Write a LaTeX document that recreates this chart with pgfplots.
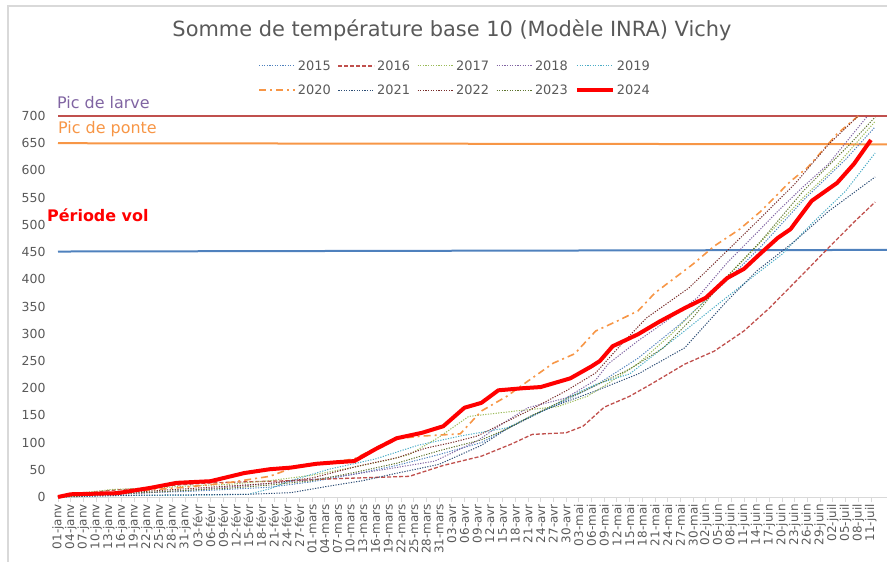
\documentclass[border=0pt]{standalone}
\usepackage{fontspec}
\setmainfont{DejaVu Sans}
\usepackage{pgfplots}
\pgfplotsset{compat=1.18}
\definecolor{cA}{HTML}{4F81BD}
\definecolor{cB}{HTML}{C0504D}
\definecolor{cC}{HTML}{9BBB59}
\definecolor{cD}{HTML}{8064A2}
\definecolor{cE}{HTML}{4BACC6}
\definecolor{cF}{HTML}{F79646}
\definecolor{cG}{HTML}{2C4D75}
\definecolor{cH}{HTML}{772C2A}
\definecolor{cI}{HTML}{5F7530}
\definecolor{txt}{HTML}{595959}
\definecolor{bord}{HTML}{D9D9D9}
\tikzset{dotl/.style={line width=1.0bp, dash pattern=on 1.2bp off 1.4bp}}
\begin{document}
\begin{tikzpicture}
\begin{axis}[
  name=ax,
  scale only axis, width=829bp, height=381bp,
  xmin=0, xmax=195.8, ymin=0, ymax=700,
  clip=false,
  axis x line*=bottom, axis y line*=left,
  y axis line style={draw=none},
  x axis line style={draw=bord, line width=1bp},
  xtick={0,3,...,192},
  xticklabels={01-janv,04-janv,07-janv,10-janv,13-janv,16-janv,19-janv,22-janv,25-janv,28-janv,31-janv,
    03-févr,06-févr,09-févr,12-févr,15-févr,18-févr,21-févr,24-févr,27-févr,
    01-mars,04-mars,07-mars,10-mars,13-mars,16-mars,19-mars,22-mars,25-mars,28-mars,31-mars,
    03-avr,06-avr,09-avr,12-avr,15-avr,18-avr,21-avr,24-avr,27-avr,30-avr,
    03-mai,06-mai,09-mai,12-mai,15-mai,18-mai,21-mai,24-mai,27-mai,30-mai,
    02-juin,05-juin,08-juin,11-juin,14-juin,17-juin,20-juin,23-juin,26-juin,29-juin,
    02-juil,05-juil,08-juil,11-juil},
  x tick label style={rotate=90, anchor=east, font=\fontsize{12}{12}\selectfont, text=txt, inner sep=2bp},
  tick align=outside, major tick length=5bp,
  xtick style={draw=bord, line width=0.8bp},
  ytick={0,50,...,700},
  ytick style={draw=none},
  y tick label style={font=\fontsize{12.5}{14}\selectfont, text=txt, xshift=-4bp},
  /pgf/number format/assume math mode=true,
  legend columns=5,
  legend cell align=left,
  legend style={draw=none, fill=none, at={(0.479,1.0997)}, anchor=center,
    font=\fontsize{13}{15}\selectfont, text=txt, row sep=9bp,
    /tikz/every even column/.append style={column sep=5bp}},
  legend image code/.code={\draw[#1] (0bp,0bp) -- (36bp,0bp);},
]
\addplot[forget plot, color=cB, line width=2.5bp] coordinates {(0,700) (195.8,700)};
\addplot[forget plot, color=cF, line width=2bp] coordinates {(0,650) (195.8,648)};
\addplot[forget plot, color=cA, line width=2bp] coordinates {(0,451) (195.8,454)};

\addplot[color=cA, dotl] coordinates {(0,0)(10,4)(20,8)(30,10)(40,14)(50,18)(60,28)(70,42)(80,58)(90,78)(100,100)(106,125)(112,150)(118,170)(127,205)(137,255)(147,318)(158,398)(166,460)(176,545)(186,620)(193,680)};
\addlegendentry{2015}
\addplot[color=cB, line width=1.3bp, dash pattern=on 4bp off 2bp] coordinates {(0,0)(6,6)(12,12)(20,16)(28,22)(36,26)(45,28)(55,30)(63,33)(75,36)(83,38)(91,58)(100,75)(107,97)(112,115)(120,118)(124,130)(129,165)(135,185)(140,207)(148,244)(155,268)(162,305)(168,347)(176,410)(182,458)(188,505)(193,542)};
\addlegendentry{2016}
\addplot[color=cC, dotl] coordinates {(0,0)(6,8)(13,14)(22,16)(30,20)(40,23)(50,30)(60,40)(70,55)(78,68)(83,78)(90,110)(97,148)(107,157)(118,166)(125,185)(129,204)(137,245)(145,300)(152,355)(160,420)(168,485)(176,550)(184,610)(193,690)};
\addlegendentry{2017}
\addplot[color=cD, dotl] coordinates {(0,0)(10,3)(20,7)(30,12)(40,18)(50,25)(60,32)(70,42)(79,53)(89,66)(99,103)(105,135)(111,164)(120,182)(127,215)(130,245)(137,287)(144,325)(151,366)(158,430)(165,485)(170,525)(176,570)(182,612)(187,660)(191,698)};
\addlegendentry{2018}
\addplot[color=cE, dotl] coordinates {(0,0)(10,2)(20,3)(30,3)(40,4)(45,5)(50,15)(55,30)(64,51)(75,70)(85,95)(95,112)(106,127)(115,160)(121,185)(127,207)(135,226)(147,299)(156,355)(165,410)(171,446)(178,502)(186,562)(193,632)};
\addlegendentry{2019}
\addplot[color=cF, line width=1.6bp, dash pattern=on 7bp off 4bp on 2bp off 4bp] coordinates {(0,0)(10,6)(20,12)(30,18)(40,26)(50,38)(57,58)(63,62)(70,70)(79,106)(86,112)(95,116)(100,158)(106,185)(111,213)(117,246)(122,263)(127,305)(132,323)(137,342)(141,375)(150,428)(155,461)(161,492)(166,525)(173,580)(177,605)(184,667)(189,700)};
\addlegendentry{2020}
\addplot[color=cG, dotl] coordinates {(0,0)(15,3)(30,4)(45,5)(55,8)(64,20)(72,30)(79,42)(90,60)(100,95)(106,125)(115,160)(120,175)(127,195)(137,226)(148,274)(158,360)(165,415)(174,470)(182,525)(193,588)};
\addlegendentry{2021}
\addplot[color=cH, dotl] coordinates {(0,0)(10,5)(20,10)(30,15)(40,20)(50,25)(60,35)(71,57)(80,72)(87,90)(93,100)(99,112)(105,135)(111,158)(120,195)(127,228)(133,280)(139,329)(149,384)(158,452)(166,513)(174,575)(182,648)(189,700)};
\addlegendentry{2022}
\addplot[color=cI, dotl] coordinates {(0,0)(10,4)(20,8)(30,12)(40,16)(50,22)(60,30)(70,45)(80,62)(90,85)(100,105)(106,125)(112,150)(120,180)(127,205)(135,235)(143,274)(150,330)(158,405)(166,470)(176,562)(187,648)(193,698)};
\addlegendentry{2023}
\addplot[color=red, line width=4bp, line join=round] coordinates {(0,0)(3,5)(14,7)(22,17)(28,26)(36,29)(44,44)(50,51)(55,54)(61,61)(66,64)(70,66)(75,88)(80,108)(86,118)(91,130)(96,164)(100,173)(104,196)(110,200)(114,202)(121,218)(126,240)(128,250)(131,277)(137,299)(142,322)(148,347)(153,366)(158,402)(162,419)(166,448)(170,476)(173,492)(178,544)(184,577)(188,612)(192,656)};
\addlegendentry{2024}

\node[anchor=base west, inner sep=0pt, text=cD, font=\fontsize{16}{16}\selectfont] at (axis cs:0,700) [yshift=7bp, xshift=-1bp] {Pic de larve};
\node[anchor=base west, inner sep=0pt, text=cF, font=\fontsize{16}{16}\selectfont] at (axis cs:0,650) [yshift=10bp] {Pic de ponte};
\node[anchor=base west, inner sep=0pt, text=red, font=\fontsize{16}{16}\selectfont\bfseries] at (axis cs:0,506) [xshift=-11bp] {Période vol};
\end{axis}
\node[text=txt, font=\fontsize{21}{21}\selectfont] at ([xshift=394bp,yshift=86bp]ax.north west) {Somme de température base 10 (Modèle INRA) Vichy};
\draw[bord, line width=1.5bp] ([shift={(-50bp,-65bp)}]ax.south west) -- ([shift={(-50bp,491bp)}]ax.south west) -- ([shift={(829bp,491bp)}]ax.south west);
\pgfresetboundingbox
\path[use as bounding box] ([shift={(-58bp,-65bp)}]ax.south west) rectangle ++(887bp,562bp);
\end{tikzpicture}
\end{document}
